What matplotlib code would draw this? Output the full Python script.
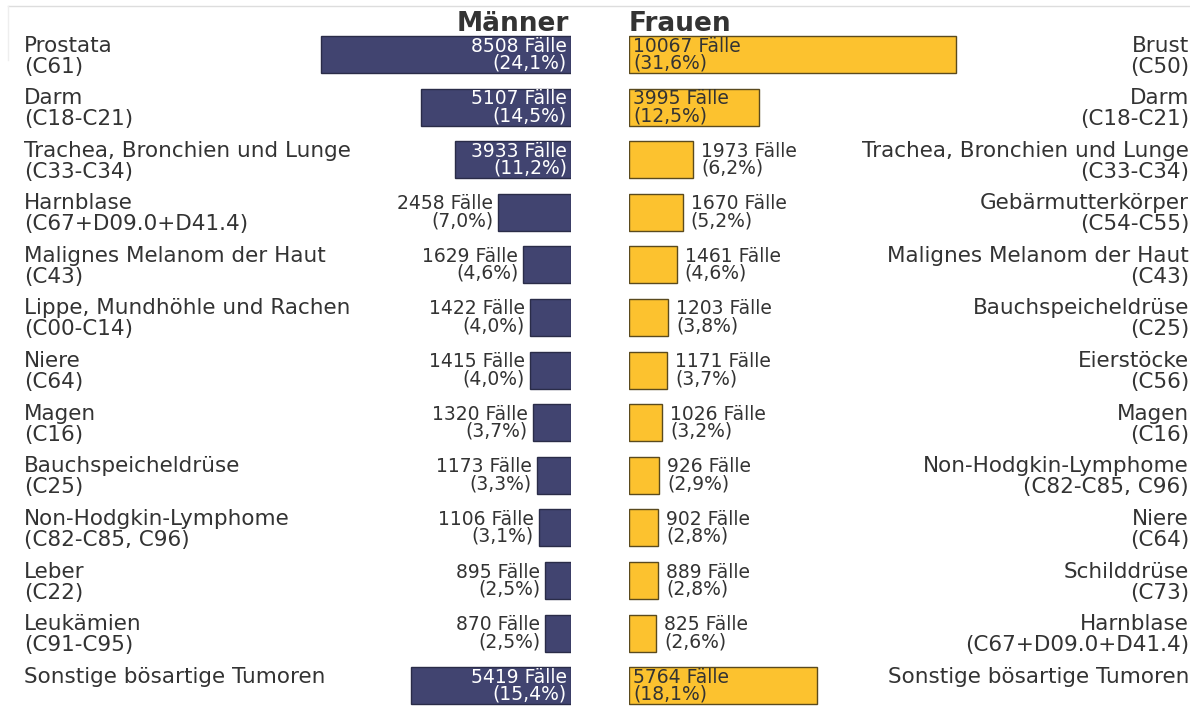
import matplotlib
matplotlib.use("Agg")
import matplotlib.pyplot as plt
from matplotlib.transforms import blended_transform_factory
from matplotlib.lines import Line2D

# Data
men_sites = ["Prostata", "Darm", "Trachea, Bronchien und Lunge", "Harnblase",
             "Malignes Melanom der Haut", "Lippe, Mundhöhle und Rachen", "Niere",
             "Magen", "Bauchspeicheldrüse", "Non-Hodgkin-Lymphome", "Leber",
             "Leukämien", "Sonstige bösartige Tumoren"]
men_codes = ["(C61)", "(C18-C21)", "(C33-C34)", "(C67+D09.0+D41.4)", "(C43)",
             "(C00-C14)", "(C64)", "(C16)", "(C25)", "(C82-C85, C96)", "(C22)",
             "(C91-C95)", ""]
men_cases = [8508, 5107, 3933, 2458, 1629, 1422, 1415, 1320, 1173, 1106, 895, 870, 5419]
men_pct = [24.1, 14.5, 11.2, 7.0, 4.6, 4.0, 4.0, 3.7, 3.3, 3.1, 2.5, 2.5, 15.4]

women_sites = ["Brust", "Darm", "Trachea, Bronchien und Lunge", "Gebärmutterkörper",
               "Malignes Melanom der Haut", "Bauchspeicheldrüse", "Eierstöcke",
               "Magen", "Non-Hodgkin-Lymphome", "Niere", "Schilddrüse",
               "Harnblase", "Sonstige bösartige Tumoren"]
women_codes = ["(C50)", "(C18-C21)", "(C33-C34)", "(C54-C55)", "(C43)", "(C25)",
               "(C56)", "(C16)", "(C82-C85, C96)", "(C64)", "(C73)",
               "(C67+D09.0+D41.4)", ""]
women_cases = [10067, 3995, 1973, 1670, 1461, 1203, 1171, 1026, 926, 902, 889, 825, 5764]
women_pct = [31.6, 12.5, 6.2, 5.2, 4.6, 3.8, 3.7, 3.2, 2.9, 2.8, 2.8, 2.6, 18.1]

men_color = "#414470"
women_color = "#FCC22F"
text_color = "#333333"

plt.rcParams["font.family"] = "DejaVu Sans"

W, H = 1190, 706
fig = plt.figure(figsize=(W / 100, H / 100), dpi=100)

# layout in pixels
mid_left, mid_right = 571, 629
px_per_pct = 10.36
row0, row_step = 54.5, 52.6

ylim = ((H - row0) / row_step, -row0 / row_step)

ax_m = fig.add_axes([0, 0, mid_left / W, 1])
ax_f = fig.add_axes([mid_right / W, 0, (W - mid_right) / W, 1])
ax_m.set_xlim(mid_left / px_per_pct, 0)
ax_f.set_xlim(0, (W - mid_right) / px_per_pct)
for ax in (ax_m, ax_f):
    ax.set_ylim(*ylim)
    ax.axis("off")

rows = list(range(len(men_pct)))
ax_m.barh(rows, men_pct, height=0.7, color=men_color, edgecolor="#2a2c48", linewidth=1)
ax_f.barh(rows, women_pct, height=0.7, color=women_color, edgecolor="#5a4a1e", linewidth=1)


def fmt_pct(p):
    return "(" + f"{p:.1f}".replace(".", ",") + "%)"


def two_lines(ax, x, y, l1, l2, dx, ha, color, size, d1, d2, coords="data"):
    ax.annotate(l1, (x, y), xycoords=coords, xytext=(dx, d1),
                textcoords="offset pixels", ha=ha, va="baseline",
                color=color, fontsize=size)
    if l2:
        ax.annotate(l2, (x, y), xycoords=coords, xytext=(dx, d2),
                    textcoords="offset pixels", ha=ha, va="baseline",
                    color=color, fontsize=size)


# value labels
vsize = 13.5
for i in rows:
    l1 = f"{men_cases[i]} Fälle"
    l2 = fmt_pct(men_pct[i])
    if men_pct[i] > 10:
        two_lines(ax_m, 0, i, l1, l2, -4, "right", "white", vsize, 3, -14)
    else:
        two_lines(ax_m, men_pct[i], i, l1, l2, -5, "right", text_color, vsize, 3, -14)

    l1 = f"{women_cases[i]} Fälle"
    l2 = fmt_pct(women_pct[i])
    if women_pct[i] > 10:
        two_lines(ax_f, 0, i, l1, l2, 4, "left", text_color, vsize, 3, -14)
    else:
        two_lines(ax_f, women_pct[i], i, l1, l2, 8, "left", text_color, vsize, 3, -14)

# category labels
tl = blended_transform_factory(fig.transFigure, ax_m.transData)
tr = blended_transform_factory(fig.transFigure, ax_f.transData)
csize = 15.5
for i in rows:
    two_lines(ax_m, 24 / W, i, men_sites[i], men_codes[i], 0, "left",
              text_color, csize, 3, -18, coords=tl)
    two_lines(ax_f, 1189 / W, i, women_sites[i], women_codes[i], 0, "right",
              text_color, csize, 3, -18, coords=tr)

# headers
fig.text(569 / W, 1 - 31 / H, "Männer", ha="right", va="baseline",
         fontsize=19, fontweight="bold", color=text_color)
fig.text(629 / W, 1 - 31 / H, "Frauen", ha="left", va="baseline",
         fontsize=19, fontweight="bold", color=text_color)

# faint frame of the original page
fig.add_artist(Line2D([8 / W, 1], [1 - 6 / H, 1 - 6 / H], color="#dddddd", lw=1))
fig.add_artist(Line2D([8 / W, 8 / W], [1 - 6 / H, 1 - 60 / H], color="#eeeeee", lw=1))

fig.savefig("out.png", dpi=100)
